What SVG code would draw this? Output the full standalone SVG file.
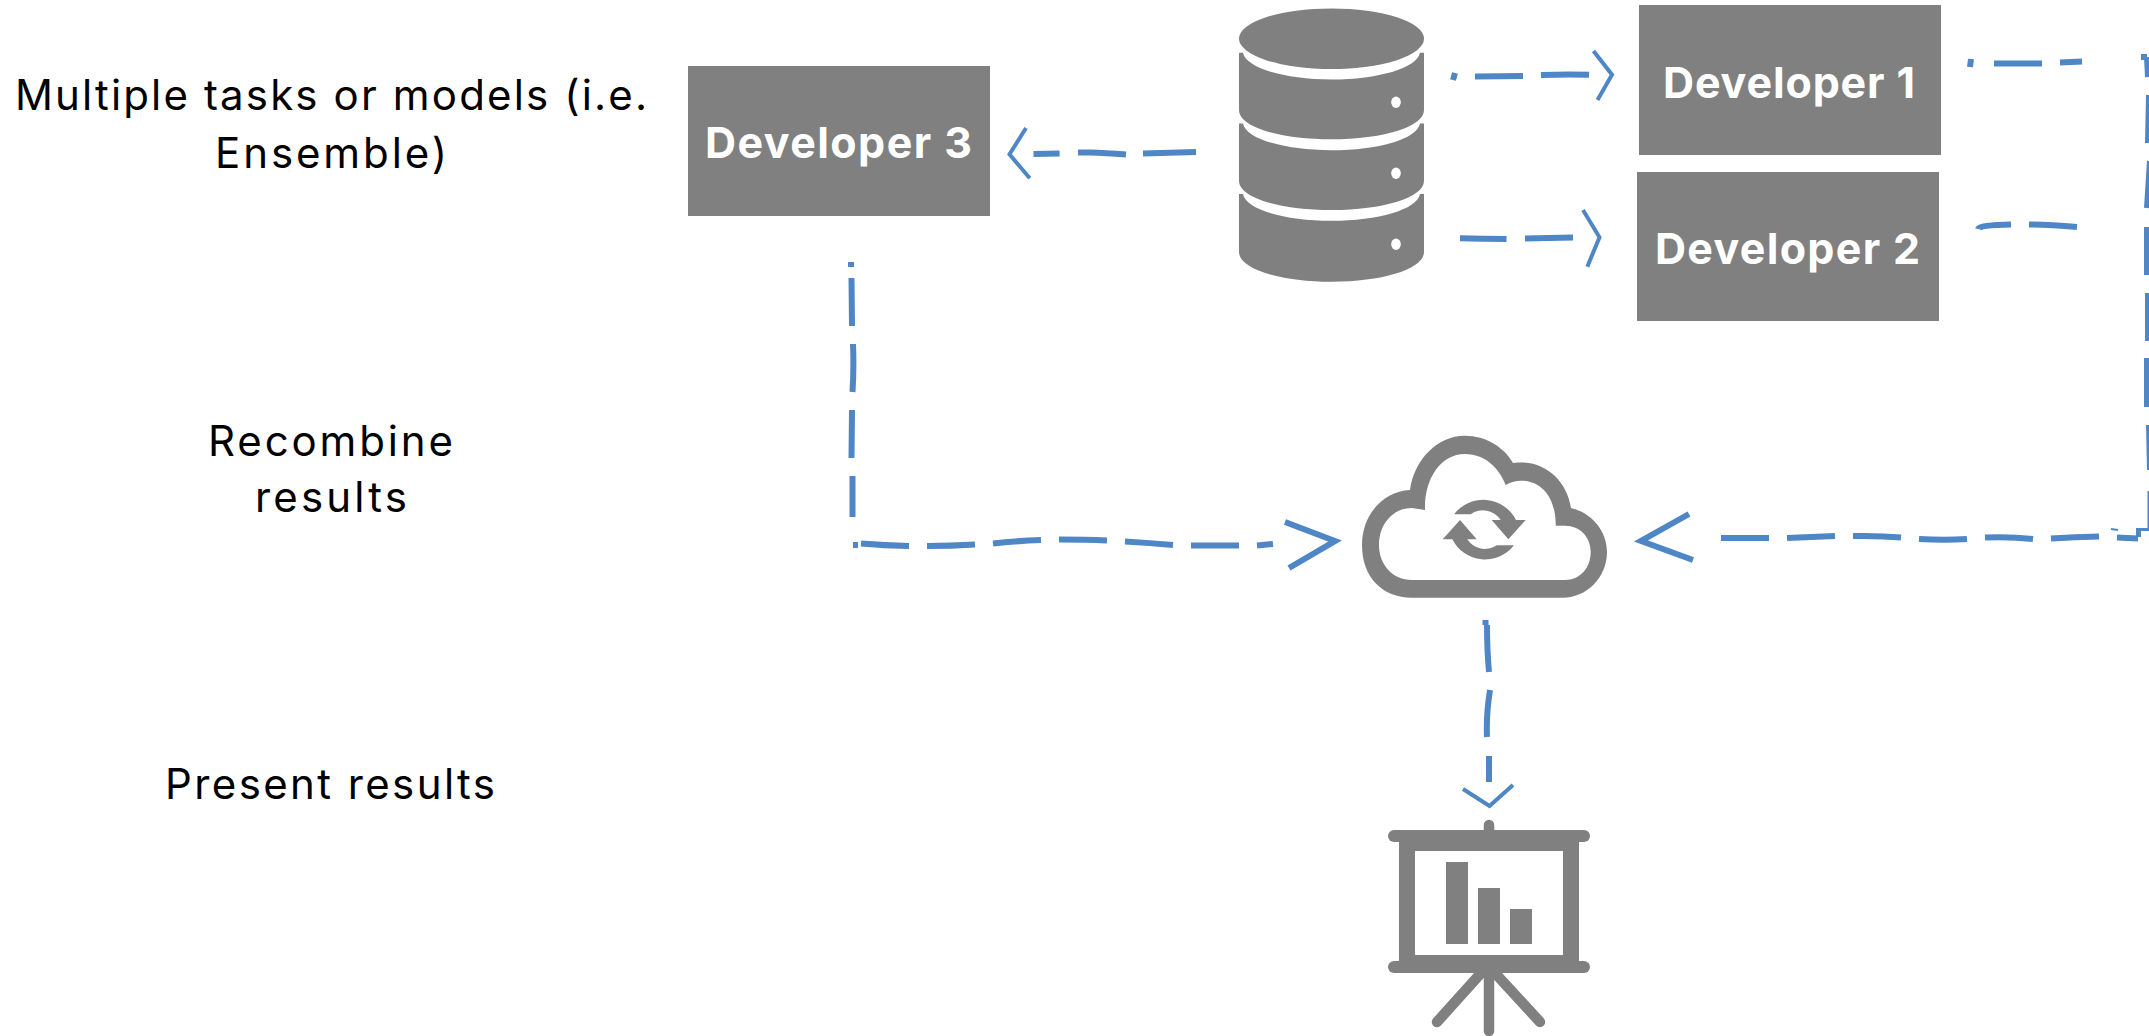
<svg xmlns="http://www.w3.org/2000/svg" width="2149" height="1036" viewBox="0 0 2149 1036">
<style>
.lbl{font-family:Inter,"Liberation Sans",sans-serif;font-size:42px;fill:#000;text-anchor:start}
.dev{font-family:Inter,"Liberation Sans",sans-serif;font-size:43px;font-weight:700;fill:#fff}
.box{fill:#808080}
.ico{fill:#808080;fill-rule:evenodd}
.hole{fill:#fff}
.bar{stroke:#808080;stroke-linecap:round;fill:none}
.dash{fill:none;stroke:#4e86c6;stroke-width:6}
.head{fill:none;stroke:#4e86c6;stroke-width:4;stroke-linejoin:miter}
.headb{fill:none;stroke:#4e86c6;stroke-width:6;stroke-linejoin:miter}
</style>
<rect width="2149" height="1036" fill="#fff"/>
<g id="labels">
<text class="lbl" x="15" y="110" textLength="632" lengthAdjust="spacing">Multiple tasks or models (i.e.</text>
<text class="lbl" x="215" y="168" textLength="232" lengthAdjust="spacing">Ensemble)</text>
<text class="lbl" x="208" y="456" textLength="245" lengthAdjust="spacing">Recombine</text>
<text class="lbl" x="255" y="512" textLength="152" lengthAdjust="spacing">results</text>
<text class="lbl" x="165" y="799" textLength="330" lengthAdjust="spacing">Present results</text>
</g>
<g id="developer-1"><rect class="box" x="1639" y="5" width="302" height="150"/><text class="dev" x="1663" y="98" textLength="252" lengthAdjust="spacing">Developer 1</text></g>
<g id="developer-2"><rect class="box" x="1637" y="172" width="302" height="149"/><text class="dev" x="1655" y="264" textLength="265" lengthAdjust="spacing">Developer 2</text></g>
<g id="developer-3"><rect class="box" x="688" y="66" width="302" height="150"/><text class="dev" x="705" y="158" textLength="267" lengthAdjust="spacing">Developer 3</text></g>
<g id="database">
<ellipse class="ico" cx="1331.5" cy="38.7" rx="92.5" ry="30.3"/>
<path class="ico" d="M1239,52.7H1243C1246,68 1285,79.5 1331.5,79.5C1378,79.5 1417,68 1420,52.7H1424V110C1424,127 1383,139.3 1331.5,139.3C1280,139.3 1239,127 1239,110Z"/>
<path class="ico" d="M1239,123.4H1243C1246,139 1285,150.2 1331.5,150.2C1378,150.2 1417,139 1420,123.4H1424V180.7C1424,197.7 1383,210 1331.5,210C1280,210 1239,197.7 1239,180.7Z"/>
<path class="ico" d="M1239,194H1243C1246,209.6 1285,220.8 1331.5,220.8C1378,220.8 1417,209.6 1420,194H1424V252C1424,269 1383,281.7 1331.5,281.7C1280,281.7 1239,269 1239,252Z"/>
<ellipse class="hole" cx="1396" cy="102.3" rx="4.8" ry="5.7"/>
<ellipse class="hole" cx="1396" cy="173.3" rx="4.8" ry="5.7"/>
<ellipse class="hole" cx="1396" cy="244.3" rx="4.8" ry="5.7"/>
</g>
<g id="cloud">
<path class="ico" d="M1412,597.7C1382,597.7 1362,577 1362,545C1362,514 1384,491 1410,490C1414,460 1437,435.7 1465,435.7C1486,435.7 1504,447 1513,463C1517,462.5 1519,462.5 1521,462.5C1547,462.5 1567,482 1571,508C1592,513 1607,531 1607,552C1607,577 1587,597.7 1563,597.7Z M1411.7,580C1393,580 1379,565 1379,545C1379,524 1393,508 1412,508L1425,510C1424,480 1440,454 1465,454C1485,454 1499,468 1505.7,485C1511,482 1516,480.7 1521,480.7C1541,480.7 1556,497 1555.7,525.7H1565C1580,525.7 1590.7,537 1590.7,552C1590.7,568 1580,580 1565,580Z"/>
<path class="ico" d="M1454,514.3A36.7,36.7 0 0 1 1516,520H1525.7L1508.3,539.3L1491.7,520H1500.7A21,21 0 0 0 1470.7,514.3Z"/>
<path class="ico" d="M1442.7,539.3L1460,520L1476.7,539.3H1467.3A21,21 0 0 0 1496.7,545.3H1514A36.7,36.7 0 0 1 1452.3,539.3Z"/>
</g>
<g id="presentation">
<line class="bar" stroke-width="10.5" x1="1489" y1="825" x2="1489" y2="836"/>
<line class="bar" stroke-width="12" x1="1394" y1="836" x2="1584" y2="836"/>
<line class="bar" stroke-width="12" x1="1394" y1="967" x2="1584" y2="967"/>
<path class="ico" d="M1399,836H1579V967H1399Z M1415,851V955H1563V851Z"/>
<rect class="box" x="1446" y="862" width="22" height="82"/>
<rect class="box" x="1478" y="888" width="22" height="56"/>
<rect class="box" x="1510" y="909" width="22" height="35"/>
<line class="bar" stroke-width="10.5" x1="1489" y1="967" x2="1489" y2="1031"/>
<line class="bar" stroke-width="10.5" x1="1482" y1="972" x2="1437" y2="1022"/>
<line class="bar" stroke-width="10.5" x1="1494" y1="972" x2="1540" y2="1022"/>
</g>
<g id="connectors">
<path class="dash" d="M1455,73L1453,80M1475,76.5L1523,76M1541,75Q1565,74 1589,74.7"/>
<polyline class="head" points="1593.5,51 1612,74.7 1597.5,100"/>
<path class="dash" d="M1463,241V238M1460,238.3Q1483,239 1506.5,239M1525,238.5L1573,237.5"/>
<polyline class="head" points="1583,210 1599.5,237.3 1587.3,266.7"/>
<path class="dash" d="M1196,152L1143,153.5M1126,154.5Q1105,153 1090,152.5L1078,152.5M1059.6,153.5L1033.5,154"/>
<polyline class="head" points="1026,128 1009.5,154.3 1029.8,178.3"/>
<path class="dash" d="M1971,59L1970,67M1994,63.5L2042,63.5M2060,62.5L2082,61.5"/>
<path class="dash" d="M1978,229Q1979,225 2011,224.5M2029,224.5Q2050,224.5 2077,227"/>
<path class="dash" d="M2141,57H2147M2147,57L2148,77M2149,95L2148,143M2150,161L2147,208M2147,227V275M2148,293V341M2147,358V407M2149,425L2150,470"/>
<path class="dash" style="stroke-width:2" d="M2148.5,491V529"/>
<path class="dash" style="stroke-width:3" d="M2149,529.5H2136"/>
<path class="dash" style="stroke-width:5" d="M2138.5,528V537"/>
<path class="dash" d="M2138,538.5L2117,537.5"/>
<path class="dash" style="stroke-width:2" d="M2111,529L2118,530"/>
<path class="dash" d="M2099,536.5Q2075,537 2051,538.5M2033,539Q2010,536.5 1985,537.5M1967,539Q1945,540.5 1919,539M1901,537.5Q1880,535.5 1853,536M1835,536Q1810,537 1787,538M1769,538H1721"/>
<polyline class="headb" points="1693,560 1641,541 1689,514"/>
<path class="dash" d="M851,262V267M851.5,278L852,326M853,344Q854,368 852.5,392M852,410L851.5,458M852.5,476L852.5,517"/>
<path class="dash" d="M853,545H858M861,543.5Q885,545.5 909,546M927,546Q950,546 975,544.5M993,543.5Q1015,541 1041,540M1059,539.5Q1085,539.5 1107,540.5M1125,541.5Q1150,543 1173,545M1191,545.5H1239M1257,545.5L1273,544"/>
<polyline class="headb" points="1285,522 1335,541 1289,568"/>
<path class="dash" d="M1485.5,620V625M1487,625Q1487,650 1489,672M1490,690Q1486,715 1487,737M1489,756L1489,782"/>
<polyline class="head" points="1463,789 1489.5,806 1513,785"/>
</g>
</svg>
